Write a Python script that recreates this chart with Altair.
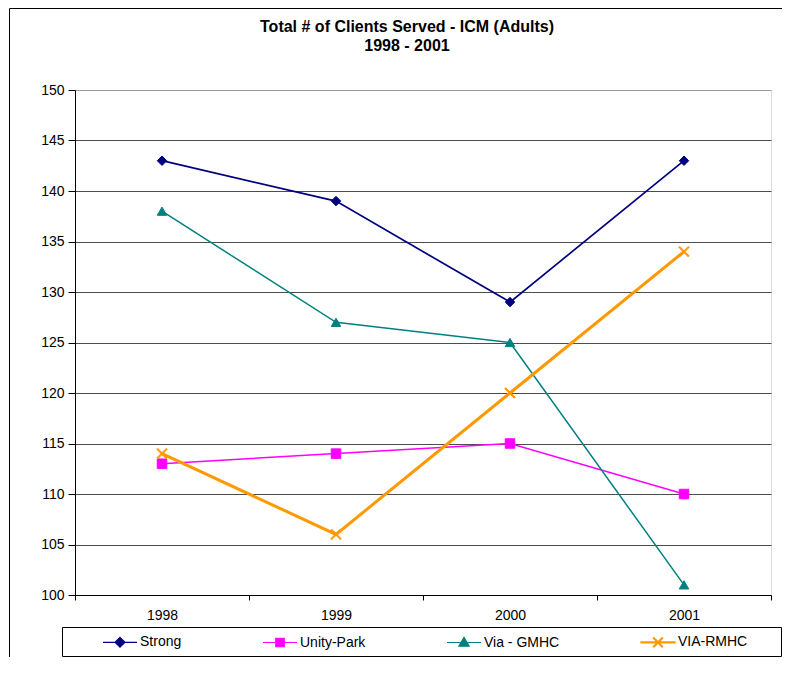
import altair as alt
import pandas as pd

# ---------------- data ----------------
years = ["1998", "1999", "2000", "2001"]
series_names = ["Strong", "Unity-Park", "Via - GMHC", "VIA-RMHC"]
strong = [143, 139, 129, 143]
unity_park = [113, 114, 115, 110]
via_gmhc = [138, 127, 125, 101]
via_rmhc = [114, 106, 120, 134]
y_ticks = [100, 105, 110, 115, 120, 125, 130, 135, 140, 145, 150]
title_lines = ["Total # of Clients Served - ICM (Adults)", "1998 - 2001"]

# ---------------- styles ----------------
FONT = "Liberation Sans"
colors = ["#000080", "#FF00FF", "#008080", "#FF9900"]
line_widths = [1.7, 1.5, 1.5, 3.0]

# X marker as two filled bars (same winding)
X_PATH = ("M-0.9,-1.1L1.1,0.9L0.9,1.1L-1.1,-0.9Z"
          "M-0.9,1.1L-1.1,0.9L0.9,-1.1L1.1,-0.9Z")
marker_shapes = ["diamond", "square", "triangle-up", X_PATH]

# legend symbols: line segment + marker
legend_paths = [
    "M-1,0H1M0,-0.29L0.29,0L0,0.29L-0.29,0Z",
    "M-1,0H1M-0.25,-0.25H0.25V0.25H-0.25Z",
    "M-1,0H1M0,-0.3L0.3,0.22H-0.3Z",
    "M-1,-0.03H1V0.03H-1Z"
    "M-0.24,-0.28L0.28,0.24L0.24,0.28L-0.28,-0.24Z"
    "M-0.24,0.28L-0.28,0.24L0.24,-0.28L0.28,-0.24Z",
]

rows = []
for name, vals in zip(series_names, [strong, unity_park, via_gmhc, via_rmhc]):
    for yr, v in zip(years, vals):
        rows.append({"year": yr, "series": name, "clients": v})
df = pd.DataFrame(rows)

x_enc = alt.X(
    "year:N",
    bandPosition=0.5,
    scale=alt.Scale(type="band", domain=years, paddingInner=0, paddingOuter=0),
    axis=alt.Axis(
        title=None, labelAngle=0, tickBand="extent", grid=False,
        labelFont=FONT, labelFontSize=14, labelColor="black",
        tickColor="black", tickSize=5, domainColor="black", labelPadding=8,
    ),
)
y_enc = alt.Y(
    "clients:Q",
    scale=alt.Scale(domain=[100, 150], nice=False, zero=False),
    axis=alt.Axis(
        title=None, values=y_ticks, grid=True,
        gridColor={"condition": {"test": "datum.value >= 150", "value": "#999999"},
                   "value": "#4d4d4d"},
        labelFont=FONT, labelFontSize=14, labelColor="black",
        tickColor="black", tickSize=7, domainColor="black", labelPadding=4,
    ),
)

base = alt.Chart(df)
deco = alt.Chart(pd.DataFrame({"k": [0]}))

frame = deco.mark_rect(fillOpacity=0, stroke="black", strokeWidth=1).encode(
    x=alt.value(-65.5), x2=alt.value(800), y=alt.value(-81.5), y2=alt.value(700)
)
legend_box = deco.mark_rect(fillOpacity=0, stroke="black", strokeWidth=1).encode(
    x=alt.value(-12.5), x2=alt.value(706.5), y=alt.value(537.5), y2=alt.value(566.5)
)

lines = base.mark_line().encode(
    x=x_enc,
    y=y_enc,
    color=alt.Color("series:N", scale=alt.Scale(domain=series_names, range=colors), legend=None),
    strokeWidth=alt.StrokeWidth(
        "series:N",
        scale=alt.Scale(type="ordinal", domain=series_names, range=line_widths),
        legend=None,
    ),
)

points = base.mark_point(filled=True, size=90, strokeWidth=1, opacity=1).encode(
    x=x_enc,
    y=y_enc,
    shape=alt.Shape("series:N", scale=alt.Scale(domain=series_names, range=marker_shapes), legend=None),
    fill=alt.Fill("series:N", scale=alt.Scale(domain=series_names, range=colors), legend=None),
    stroke=alt.Stroke("series:N", scale=alt.Scale(domain=series_names, range=colors), legend=None),
)

leg = alt.Legend(
    orient="none", legendX=27, legendY=534, direction="horizontal", title=None,
    symbolSize=1156, symbolStrokeWidth=1.2, symbolOpacity=1,
    labelFont=FONT, labelFontSize=14, labelColor="black", labelOffset=2,
    columnPadding=78, padding=0,
)
legend_layer = base.transform_filter("false").mark_point(filled=True, opacity=1, strokeWidth=1.2).encode(
    shape=alt.Shape("series:N", scale=alt.Scale(domain=series_names, range=legend_paths), legend=leg),
    fill=alt.Fill("series:N", scale=alt.Scale(domain=series_names, range=colors), legend=leg),
    stroke=alt.Stroke("series:N", scale=alt.Scale(domain=series_names, range=colors), legend=leg),
)

chart = (
    alt.layer(frame, legend_box, lines, points, legend_layer)
    .resolve_scale(shape="independent", fill="independent", stroke="independent")
    .properties(
        width=696,
        height=505,
        padding={"left": 67, "top": 82, "right": 11, "bottom": 62},
        autosize=alt.AutoSizeParams(type="none"),
        title=alt.Title(
            title_lines, font=FONT, fontSize=16, fontWeight="bold", color="black",
            anchor="middle", dx=-16, offset=-46, lineHeight=19, frame="group",
        ),
    )
    .configure_view(stroke="#999999", strokeWidth=1)
    .configure(font=FONT)
)

chart.save("out.html", embed_options={"renderer": "svg", "actions": False})
